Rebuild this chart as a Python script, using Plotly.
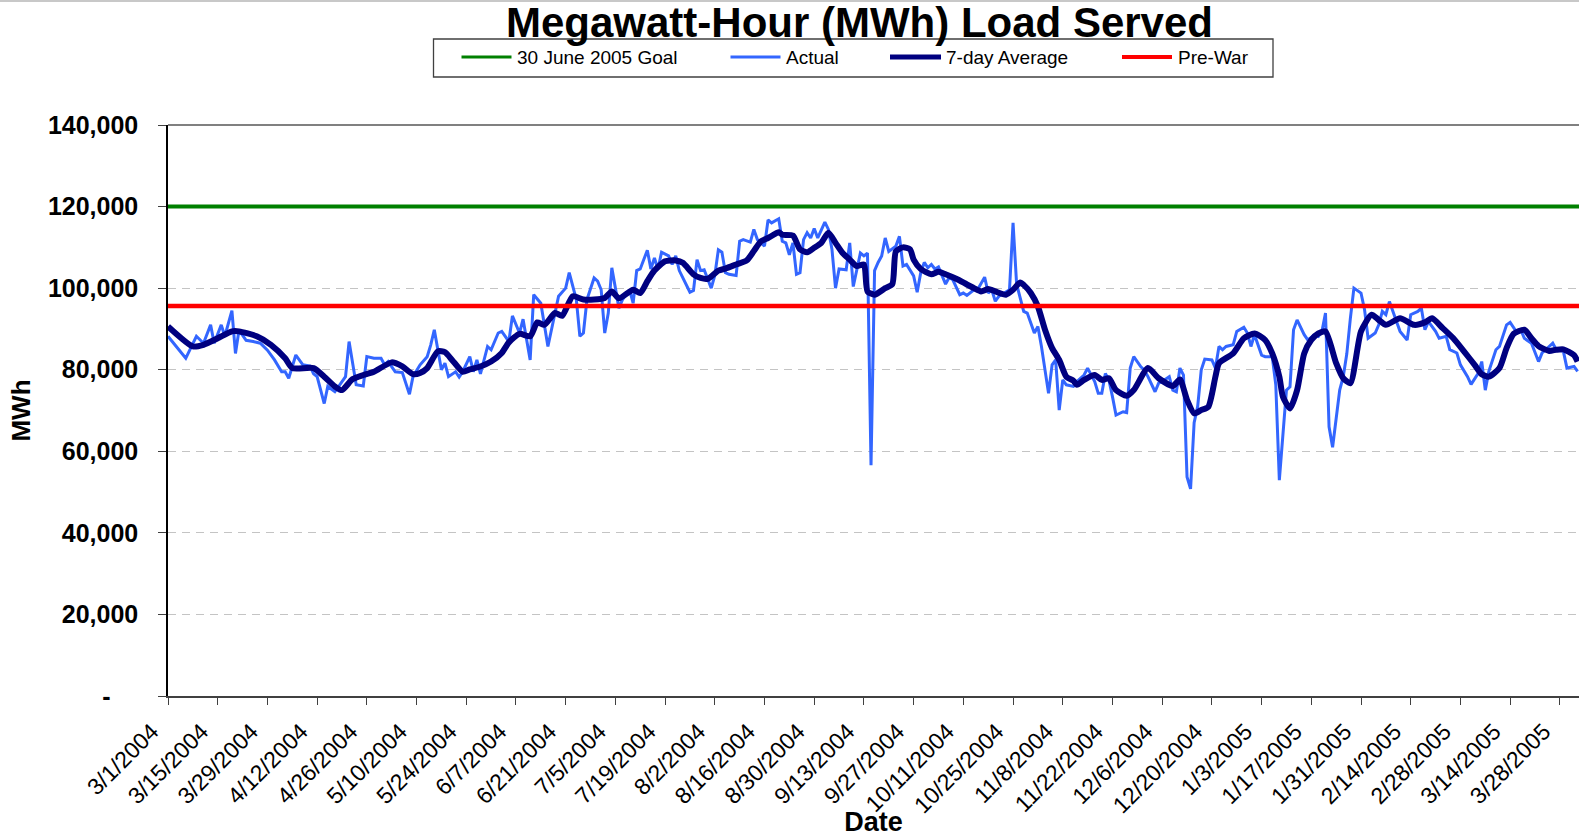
import pandas as pd
import plotly.graph_objects as go

# ---------------- data ----------------
START = "2004-03-01"
END = "2005-04-02 09:30"

goal_mwh = 120000
prewar_mwh = 95600

legend_names = ["30 June 2005 Goal", "Actual", "7-day Average", "Pre-War"]

# day offsets from 3/1/2004 and daily MWh
actual_day = [0, 5, 8, 10, 12, 13, 15, 16, 18, 19, 20, 22, 24, 26, 28, 30, 32, 33, 34, 36,
              38, 40, 41, 42, 44, 45, 47, 48, 50, 51, 53, 55, 56, 58, 60, 61, 62, 64, 66, 68,
              69, 71, 73, 74, 75, 77, 78, 79, 81, 82, 83, 85, 86, 87, 88, 90, 91, 93, 94, 96,
              97, 99, 100, 102, 103, 105, 107, 109, 110, 112, 113, 115, 116, 117, 118, 120, 121, 122, 123, 124,
              125, 127, 128, 130, 131, 132, 133, 135, 136, 137, 138, 139, 141, 142, 143, 144, 146, 147, 148, 149,
              150, 151, 153, 154, 155, 156, 157, 158, 160, 161, 162, 164, 165, 166, 168, 169, 170, 172, 173, 174,
              175, 176, 177, 178, 179, 180, 181, 182, 183, 184, 185, 186, 187, 188, 189, 191, 192, 193, 194, 195,
              196, 197, 198, 199, 200, 201, 202, 203, 205, 206, 207, 208, 210, 211, 212, 213, 214, 215, 216, 217,
              219, 220, 221, 223, 224, 225, 227, 228, 230, 231, 232, 233, 234, 236, 237, 238, 239, 241, 242, 244,
              245, 246, 248, 249, 250, 251, 252, 253, 255, 256, 258, 259, 261, 262, 263, 264, 265, 266, 267, 269,
              270, 271, 272, 274, 275, 276, 278, 279, 280, 282, 283, 284, 285, 286, 287, 288, 289, 290, 291, 292,
              294, 295, 296, 297, 298, 300, 301, 303, 304, 305, 306, 308, 309, 311, 312, 313, 314, 315, 316, 317,
              318, 320, 321, 323, 324, 325, 326, 327, 328, 330, 331, 332, 333, 334, 336, 337, 338, 340, 341, 342,
              343, 344, 346, 347, 349, 350, 352, 353, 354, 355, 357, 358, 360, 361, 363, 364, 366, 367, 369, 370,
              371, 372, 374, 375, 377, 378, 380, 381, 382, 384, 386, 387, 388, 390, 391, 393, 394, 396, 397]
actual_mwh = [88200, 82800, 88200, 86500, 91000, 86500, 91000, 88200, 94500, 84000, 89700, 87200, 86900, 86500, 84800, 82400, 79500, 79500, 77900, 83600,
              81200, 80900, 79000, 78300, 71700, 75900, 74600, 75900, 78300, 86900, 76300, 76000, 83200, 82800, 82800, 81200, 82000, 79500, 79300, 74000,
              78300, 81200, 83200, 86100, 89800, 80000, 81600, 78300, 79500, 78200, 79500, 83200, 79500, 82400, 79000, 85700, 84900, 89000, 89400, 86900,
              93200, 89000, 92400, 82400, 98400, 96300, 85700, 93900, 98000, 100000, 103800, 97200, 88200, 89000, 97200, 102500, 101700, 99600, 89000, 93900,
              105000, 95100, 97200, 99600, 96300, 104300, 104700, 109300, 104700, 107400, 104700, 108800, 107900, 105800, 107900, 104300, 101000, 99000, 99400, 107000,
              104300, 104500, 100000, 103100, 109400, 108800, 103800, 103400, 103100, 111500, 111900, 111300, 114400, 111900, 110300, 116700, 116000, 117000, 111500, 111100,
              108200, 111100, 103400, 103800, 111900, 113600, 112300, 114600, 112300, 114400, 116200, 114400, 109500, 100000, 104700, 104500, 111100, 100400, 104700, 108600,
              107900, 108600, 56600, 104300, 106300, 107900, 112300, 109000, 110300, 112700, 105400, 105800, 103000, 99000, 103800, 106300, 105000, 105800, 104700, 105200,
              101000, 102600, 102100, 98400, 98800, 98200, 99600, 99600, 102700, 98800, 99600, 96800, 98000, 99200, 99600, 116000, 101000, 94300, 93900, 89000,
              90600, 85700, 74200, 81200, 82400, 70100, 77500, 76300, 75900, 77100, 78700, 80400, 77100, 74200, 74200, 79100, 77500, 73400, 68900, 69700,
              69500, 80400, 83200, 80700, 79900, 78300, 74600, 76700, 77100, 78300, 75000, 74600, 80400, 78700, 53700, 50800, 67000, 71000, 79900, 82600,
              82400, 80400, 85700, 84900, 85700, 86100, 89400, 90400, 89000, 85700, 88600, 83600, 83200, 83200, 76300, 52900, 63600, 75000, 75800, 89800,
              92200, 88600, 87300, 88600, 88200, 89400, 93900, 66000, 61000, 75000, 78300, 83900, 92600, 100000, 98800, 94700, 87700, 89000, 91000, 94300,
              93500, 96700, 91800, 89400, 87300, 93500, 94300, 95100, 89800, 91800, 89400, 87700, 88200, 84900, 84100, 81200, 78300, 76400, 79100, 82000,
              75000, 79600, 84900, 85700, 91000, 91600, 89000, 89800, 87700, 86500, 82000, 84100, 84900, 86500, 84900, 84500, 80400, 80800, 79600]

avg_day = [0, 7, 10, 14, 18, 20, 25, 29, 33, 35, 41, 44, 47, 49, 52, 55, 58, 63, 66, 69,
           71, 73, 76, 78, 80, 83, 85, 88, 91, 94, 96, 99, 102, 104, 106, 109, 111, 114, 117, 120,
           123, 125, 127, 131, 133, 135, 137, 140, 143, 145, 148, 150, 152, 155, 157, 160, 163, 165, 167, 169,
           172, 173, 176, 178, 180, 182, 184, 186, 188, 190, 192, 194, 196, 197, 199, 202, 204, 205, 207, 209,
           210, 212, 215, 217, 219, 222, 225, 227, 229, 231, 233, 236, 238, 240, 241, 243, 245, 247, 249, 251,
           253, 255, 256, 258, 261, 263, 265, 267, 270, 272, 276, 279, 283, 285, 287, 289, 291, 293, 295, 296,
           300, 303, 306, 309, 311, 313, 314, 316, 318, 320, 322, 324, 326, 329, 331, 333, 336, 339, 341, 343,
           347, 351, 354, 356, 359, 362, 365, 368, 370, 372, 375, 377, 379, 382, 384, 386, 389, 391, 393, 396, 397]
avg_mwh = [90600, 85700, 86100, 87700, 89400, 89400, 88200, 86100, 82800, 80400, 80400, 78300, 75900, 75000, 77700, 78700, 79500, 81800, 80800, 78900,
           79200, 80400, 84500, 84300, 82400, 79500, 80100, 80800, 82000, 84100, 86700, 88800, 88200, 91600, 91000, 93900, 93200, 98000, 97200, 97200,
           97600, 99200, 97500, 99600, 98800, 101700, 104300, 106600, 106800, 106200, 103400, 102500, 102300, 104300, 104800, 105800, 106800, 109100, 111500, 112300,
           113700, 113100, 112900, 109500, 108800, 109900, 111100, 113600, 111100, 108600, 107000, 105400, 105800, 99200, 98400, 100000, 101000, 109000, 110000, 109500,
           107000, 104700, 103400, 104000, 103400, 102300, 100900, 100000, 99200, 99800, 99200, 98400, 99600, 101400, 100800, 98800, 95500, 89800, 85300, 82400,
           78300, 77300, 76300, 77500, 78700, 77500, 77900, 75000, 73600, 75000, 80400, 77900, 76000, 77600, 72600, 69300, 70100, 70900, 78300, 81600,
           84000, 87700, 88900, 87300, 84000, 78300, 73400, 70500, 75000, 84000, 87300, 88900, 89400, 81600, 77900, 76700, 89400, 93500, 92200, 91000,
           92600, 91000, 91600, 92600, 90200, 87700, 84500, 81200, 78900, 78300, 80400, 85300, 88800, 89800, 87700, 85800, 84600, 84900, 85000, 83600, 82000]

y_tick_vals = [0, 20000, 40000, 60000, 80000, 100000, 120000, 140000]
y_tick_text = ["-\u00a0\u00a0\u00a0\u00a0", "20,000", "40,000", "60,000", "80,000",
               "100,000", "120,000", "140,000"]

# ---------------- styling ----------------
W, H = 1579, 837
PL, PR, PT, PB = 168, 1579, 125, 696
FONT = "Liberation Sans, Arial, sans-serif"
C_GOAL, C_ACT, C_AVG, C_PRE = "#008000", "#3366FF", "#000080", "#FF0000"


def px_x(x):
    return (x - PL) / (PR - PL)


def px_y(y):
    return (PB - y) / (PB - PT)


start = pd.Timestamp(START)
actual_dates = start + pd.to_timedelta(actual_day, unit="D")
avg_dates = start + pd.to_timedelta(avg_day, unit="D")
line_x = [START, END]

fig = go.Figure()
fig.add_trace(go.Scatter(x=line_x, y=[goal_mwh, goal_mwh], mode="lines", name=legend_names[0],
                         line=dict(color=C_GOAL, width=4), showlegend=False))
fig.add_trace(go.Scatter(x=actual_dates, y=actual_mwh, mode="lines", name=legend_names[1],
                         line=dict(color=C_ACT, width=3), showlegend=False))
fig.add_trace(go.Scatter(x=avg_dates, y=avg_mwh, mode="lines", name=legend_names[2],
                         line=dict(color=C_AVG, width=6, shape="spline", smoothing=0.6), showlegend=False))
fig.add_trace(go.Scatter(x=line_x, y=[prewar_mwh, prewar_mwh], mode="lines", name=legend_names[3],
                         line=dict(color=C_PRE, width=4.5), showlegend=False))

shapes = []
annotations = []
# top border of plot area (solid gray at 140,000)
shapes.append(dict(type="line", xref="paper", yref="paper", x0=0, x1=1, y0=1, y1=1,
                   line=dict(color="#808080", width=2), layer="above"))
# faint frame line at very top of image
shapes.append(dict(type="line", xref="paper", yref="paper", x0=px_x(0), x1=1, y0=px_y(1), y1=px_y(1),
                   line=dict(color="#c8c8c8", width=2)))

# manual legend box
shapes.append(dict(type="rect", xref="paper", yref="paper",
                   x0=px_x(433.5), x1=px_x(1273), y0=px_y(77), y1=px_y(39),
                   line=dict(color="#404040", width=1.3), fillcolor="white", layer="above"))
leg_items = [
    (461.5, 511.5, 515, C_GOAL, 3),
    (730.5, 780.5, 783.5, C_ACT, 3),
    (890, 941, 944, C_AVG, 5),
    (1122, 1172, 1175.5, C_PRE, 4),
]
for (lx0, lx1, tx, col, lw), name in zip(leg_items, legend_names):
    shapes.append(dict(type="line", xref="paper", yref="paper", x0=px_x(lx0), x1=px_x(lx1),
                       y0=px_y(57), y1=px_y(57), line=dict(color=col, width=lw), layer="above"))
    annotations.append(dict(text=name, xref="paper", yref="paper", x=px_x(tx), y=px_y(58),
                            xanchor="left", yanchor="middle", showarrow=False,
                            font=dict(family=FONT, size=19, color="black")))

fig.update_layout(
    width=W, height=H,
    margin=dict(l=PL, r=W - PR, t=PT, b=H - PB, pad=0),
    paper_bgcolor="white", plot_bgcolor="white",
    font=dict(family=FONT, color="black"),
    title=dict(text="<b>Megawatt-Hour (MWh) Load Served</b>", x=859.5 / W, xanchor="center",
               y=1 - 22 / H, yanchor="middle", yref="container",
               font=dict(family=FONT, size=42, color="black")),
    shapes=shapes, annotations=annotations,
    showlegend=False,
    xaxis=dict(type="date", range=[START, END], tickmode="linear", tick0=START,
               dtick=14 * 86400000, tickformat="%-m/%-d/%Y", tickangle=-45,
               ticks="outside", ticklen=7, tickcolor="#404040", tickwidth=1,
               showline=True, linecolor="#404040", linewidth=2, showgrid=False, zeroline=False,
               tickfont=dict(family=FONT, size=23, color="black"),
               ticklabelshift=-16, ticklabelstandoff=4,
               title=dict(text="<b>Date</b>", font=dict(family=FONT, size=27, color="black"), standoff=15),
               automargin=False),
    yaxis=dict(range=[0, 140000], tickmode="array", tickvals=y_tick_vals, ticktext=y_tick_text,
               ticks="outside", ticklen=8, tickcolor="#404040", tickwidth=1,
               showline=True, linecolor="black", linewidth=1.5,
               showgrid=True, gridcolor="#c4c4c4", gridwidth=1, griddash="8px,6px", zeroline=False,
               tickfont=dict(family=FONT, size=25, color="black", weight="bold"),
               ticklabelstandoff=15,
               title=dict(text="<b>MWh</b>", font=dict(family=FONT, size=26, color="black"), standoff=10),
               automargin=False),
)

fig.write_html("out.html", config={"displayModeBar": False},
               post_script="document.body.style.margin='0px';")
